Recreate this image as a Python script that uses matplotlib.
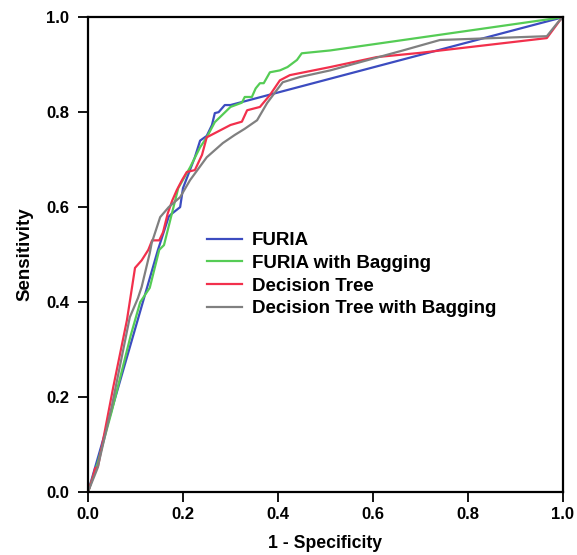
import matplotlib.pyplot as plt

plt.rcParams['font.family'] = ['Liberation Sans', 'DejaVu Sans']

# ROC curve points (1 - specificity, sensitivity)
furia_x = [0.0, 0.147, 0.17, 0.175, 0.194, 0.20, 0.225, 0.236, 0.25, 0.261, 0.267, 0.275, 0.288, 0.30, 1.0]
furia_y = [0.0, 0.509, 0.58, 0.585, 0.60, 0.64, 0.705, 0.74, 0.75, 0.773, 0.798, 0.80, 0.815, 0.815, 1.0]

bag_x = [0.0, 0.02, 0.05, 0.09, 0.11, 0.13, 0.15, 0.16, 0.18, 0.19, 0.215, 0.236, 0.25, 0.267, 0.30, 0.324, 0.33, 0.345,
         0.353, 0.362, 0.37, 0.383, 0.404, 0.42, 0.44, 0.45, 0.51, 1.0]
bag_y = [0.0, 0.06, 0.17, 0.33, 0.40, 0.43, 0.51, 0.52, 0.60, 0.64, 0.684, 0.726, 0.747, 0.779, 0.811, 0.82, 0.832, 0.832,
         0.85, 0.861, 0.861, 0.884, 0.888, 0.895, 0.91, 0.924, 0.93, 1.0]

tree_x = [0.0, 0.01, 0.015, 0.021, 0.053, 0.082, 0.099, 0.113, 0.127, 0.135, 0.15, 0.158, 0.168, 0.177, 0.187, 0.198,
          0.208, 0.225, 0.24, 0.25, 0.30, 0.324, 0.335, 0.362, 0.383, 0.404, 0.425, 0.51, 0.608, 0.7, 0.966, 0.994, 1.0]
tree_y = [0.0, 0.03, 0.05, 0.053, 0.22, 0.362, 0.472, 0.488, 0.51, 0.53, 0.53, 0.547, 0.587, 0.613, 0.636, 0.657,
          0.674, 0.678, 0.71, 0.747, 0.773, 0.78, 0.804, 0.811, 0.836, 0.867, 0.878, 0.895, 0.916, 0.925, 0.956, 0.994, 1.0]

treebag_x = [0.0, 0.02, 0.05, 0.088, 0.105, 0.113, 0.13, 0.134, 0.152, 0.17, 0.194, 0.215, 0.25, 0.284, 0.309, 0.33,
             0.356, 0.377, 0.394, 0.41, 0.446, 0.51, 0.663, 0.741, 0.966, 0.99, 1.0]
treebag_y = [0.0, 0.05, 0.18, 0.368, 0.408, 0.432, 0.503, 0.524, 0.579, 0.60, 0.621, 0.657, 0.705, 0.735, 0.752, 0.765,
             0.783, 0.819, 0.842, 0.863, 0.874, 0.888, 0.93, 0.952, 0.96, 0.99, 1.0]

labels = ['FURIA', 'FURIA with Bagging', 'Decision Tree', 'Decision Tree with Bagging']
colors = ['#3c4cc0', '#55cc55', '#f2304c', '#808080']
ticks = [0.0, 0.2, 0.4, 0.6, 0.8, 1.0]

fig = plt.figure(figsize=(5.77, 5.55), dpi=100)
ax = fig.add_axes([0.1525, 0.1135, 0.8232, 0.8555])

series = [(furia_x, furia_y), (bag_x, bag_y), (tree_x, tree_y), (treebag_x, treebag_y)]
for (xs, ys), lab, col in zip(series, labels, colors):
    ax.plot(xs, ys, color=col, lw=1.6, label=lab)

ax.set_xlim(0, 1)
ax.set_ylim(0, 1)
ax.set_xticks(ticks)
ax.set_yticks(ticks)
ax.set_xticklabels([f'{t:.1f}' for t in ticks], fontsize=12, fontweight='bold')
ax.set_yticklabels([f'{t:.1f}' for t in ticks], fontsize=12, fontweight='bold')
ax.tick_params(direction='out', length=7.5, width=1.3, pad=3)
ax.tick_params(axis='y', pad=6)
for s in ax.spines.values():
    s.set_linewidth(1.6)

ax.set_xlabel('1 - Specificity', fontsize=12.7, fontweight='bold', labelpad=10)
ax.set_ylabel('Sensitivity', fontsize=13.5, fontweight='bold', labelpad=9)

leg = ax.legend(loc='upper left', bbox_to_anchor=(0.215, 0.583), frameon=False,
                prop={'size': 13.5, 'weight': 'bold'}, handlelength=1.85,
                labelspacing=0.3, handletextpad=0.55)

fig.savefig('out.png', dpi=100)
